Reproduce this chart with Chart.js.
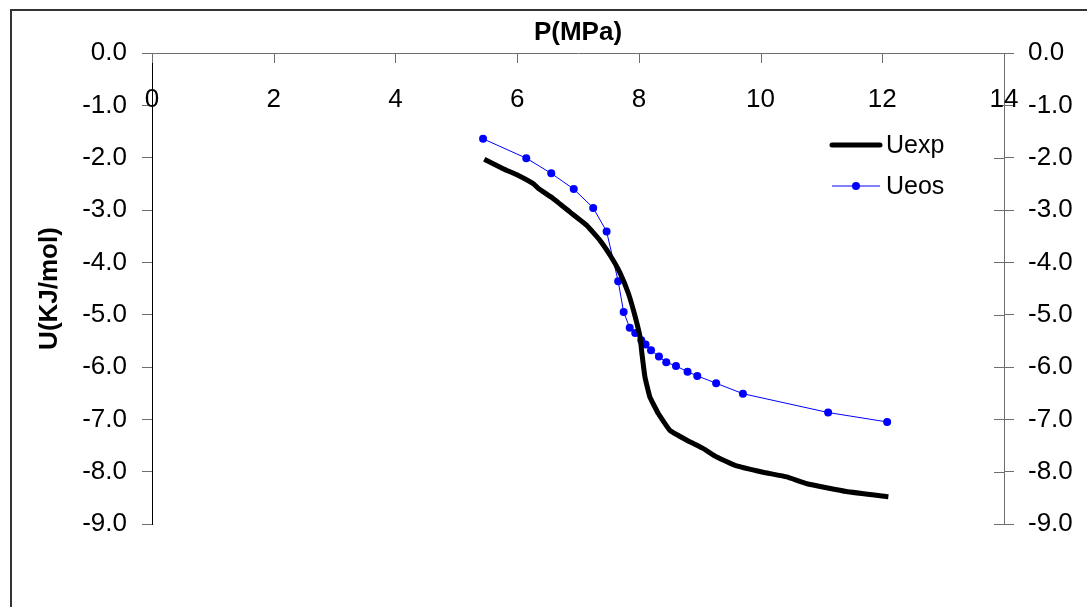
<!DOCTYPE html>
<html>
<head>
<meta charset="utf-8">
<script src="https://cdn.jsdelivr.net/npm/chart.js@4.4.0/dist/chart.umd.min.js"></script>
<style>
  html, body { margin: 0; padding: 0; background: #fff; }
  #wrap { width: 1087px; height: 607px; position: relative; }
</style>
</head>
<body>
<div id="wrap"><canvas id="ourChart"></canvas></div>
<script>
// values
const xTicks = [0, 2, 4, 6, 8, 10, 12, 14];
const yTicks = [0, -1, -2, -3, -4, -5, -6, -7, -8, -9];

const pExp = [5.46, 5.77, 6.02, 6.27, 6.35, 6.59, 6.87, 7.14, 7.36, 7.53, 7.69, 7.83, 7.94, 8.02, 8.05, 8.10, 8.18, 8.32, 8.51, 8.79, 9.06, 9.28, 9.58, 10.04, 10.43, 10.76, 11.41, 12.10];
const uExp = [-2.03, -2.21, -2.34, -2.50, -2.59, -2.78, -3.04, -3.29, -3.58, -3.87, -4.20, -4.60, -5.04, -5.43, -5.74, -6.19, -6.57, -6.89, -7.21, -7.40, -7.56, -7.72, -7.88, -8.01, -8.10, -8.23, -8.38, -8.48];

const pEos = [5.44, 6.15, 6.56, 6.93, 7.25, 7.47, 7.66, 7.75, 7.85, 7.94, 8.04, 8.11, 8.20, 8.33, 8.45, 8.61, 8.80, 8.96, 9.27, 9.71, 11.11, 12.08];
const uEos = [-1.64, -2.01, -2.30, -2.60, -2.96, -3.41, -4.36, -4.95, -5.25, -5.35, -5.49, -5.57, -5.68, -5.80, -5.91, -5.98, -6.09, -6.17, -6.31, -6.51, -6.87, -7.05];

const seriesNames = ['Uexp', 'Ueos'];

const FONT = "'Liberation Sans', Arial, sans-serif";
const FSIZE = 26;
const axisGray = '#6e6e6e';

function toPoints(xs, ys) {
    return xs.map((x, i) => ({x: x, y: ys[i]}));
}

// frame, inward tick marks, x labels, legend
const extras = {
    id: 'extras',
    beforeDraw(chart) {
        const ctx = chart.ctx;
        ctx.save();
        ctx.fillStyle = '#fff';
        ctx.fillRect(0, 0, chart.width, chart.height);
        ctx.strokeStyle = '#333';
        ctx.lineWidth = 2;
        ctx.strokeRect(11, 10, chart.width + 20, chart.height + 20);
        ctx.restore();
    },
    afterDraw(chart) {
        const ctx = chart.ctx;
        const xs = chart.scales.x;
        const yr = chart.scales.y2;
        const area = chart.chartArea;
        ctx.save();
        ctx.strokeStyle = axisGray;
        ctx.lineWidth = 1;
        // x tick marks pointing down
        xTicks.forEach(v => {
            const px = Math.round(xs.getPixelForValue(v)) + 0.5;
            ctx.beginPath();
            ctx.moveTo(px, area.top);
            ctx.lineTo(px, area.top + 10);
            ctx.stroke();
        });
        // inner half of right axis ticks
        yTicks.forEach(v => {
            const py = Math.round(yr.getPixelForValue(v)) + 0.5;
            ctx.beginPath();
            ctx.moveTo(area.right - 10, py);
            ctx.lineTo(area.right, py);
            ctx.stroke();
        });
        // x tick labels under the axis line
        ctx.fillStyle = '#000';
        ctx.font = FSIZE + 'px ' + FONT;
        ctx.textAlign = 'center';
        ctx.textBaseline = 'alphabetic';
        xTicks.forEach(v => {
            ctx.fillText(String(v), xs.getPixelForValue(v), area.top + 54);
        });
        // legend
        const lx = area.right - 172;
        const ds = chart.data.datasets;
        const rows = [area.top + 92, area.top + 133];
        ds.forEach((d, i) => {
            const y = rows[i];
            ctx.strokeStyle = d.borderColor;
            ctx.lineWidth = d.borderWidth;
            ctx.lineCap = i === 0 ? 'round' : 'butt';
            ctx.beginPath();
            ctx.moveTo(lx, y);
            ctx.lineTo(lx + 48, y);
            ctx.stroke();
            if (d.pointRadius > 0) {
                ctx.fillStyle = d.pointBackgroundColor;
                ctx.beginPath();
                ctx.arc(lx + 24, y, 4, 0, Math.PI * 2);
                ctx.fill();
            }
            ctx.fillStyle = '#000';
            ctx.textAlign = 'left';
            ctx.textBaseline = 'middle';
            ctx.font = (FSIZE - 1) + 'px ' + FONT;
            ctx.fillText(d.label, lx + 54, y + 1);
        });
        ctx.restore();
    }
};

const chartElement = new Chart(document.getElementById('ourChart'), {
    type: 'scatter',
    data: {
        datasets: [
            {
                label: seriesNames[0],
                data: toPoints(pExp, uExp),
                showLine: true,
                borderColor: '#000',
                borderWidth: 5,
                pointRadius: 0,
                tension: 0.1
            },
            {
                label: seriesNames[1],
                data: toPoints(pEos, uEos),
                showLine: true,
                borderColor: '#0000ff',
                backgroundColor: '#0000ff',
                pointBackgroundColor: '#0000ff',
                borderWidth: 1,
                pointRadius: 4,
                pointBorderWidth: 0,
                tension: 0
            }
        ]
    },
    options: {
        responsive: true,
        maintainAspectRatio: false,
        animation: false,
        layout: { padding: { left: 0, right: 0, top: 0, bottom: 83 } },
        plugins: {
            legend: { display: false },
            tooltip: { enabled: false }
        },
        scales: {
            x: {
                type: 'linear',
                position: 'top',
                min: 0,
                max: 14,
                ticks: { display: false, stepSize: 2 },
                grid: { display: false },
                border: { display: true, color: axisGray, width: 1 },
                title: {
                    display: true,
                    text: 'P(MPa)',
                    color: '#000',
                    font: { family: FONT, size: FSIZE, weight: 'bold' },
                    padding: { top: 17, bottom: 0 }
                },
                afterFit(scale) { scale.height = 53; }
            },
            y: {
                type: 'linear',
                position: 'left',
                min: -9,
                max: 0,
                ticks: {
                    stepSize: 1,
                    color: '#000',
                    padding: 15,
                    font: { family: FONT, size: FSIZE },
                    callback: v => v.toFixed(1)
                },
                grid: { drawOnChartArea: false, tickLength: 10, color: axisGray },
                border: { display: true, color: '#000', width: 1 },
                title: {
                    display: true,
                    text: 'U(KJ/mol)',
                    color: '#000',
                    font: { family: FONT, size: FSIZE, weight: 'bold' },
                    padding: { top: 34, bottom: 0 }
                },
                afterFit(scale) { scale.width = 152; }
            },
            y2: {
                type: 'linear',
                position: 'right',
                min: -9,
                max: 0,
                ticks: {
                    stepSize: 1,
                    color: '#000',
                    padding: 14,
                    font: { family: FONT, size: FSIZE },
                    callback: v => v.toFixed(1)
                },
                grid: { drawOnChartArea: false, tickLength: 10, color: axisGray },
                border: { display: true, color: axisGray, width: 1 },
                afterFit(scale) { scale.width = 83; }
            }
        }
    },
    plugins: [extras]
});
</script>
</body>
</html>
